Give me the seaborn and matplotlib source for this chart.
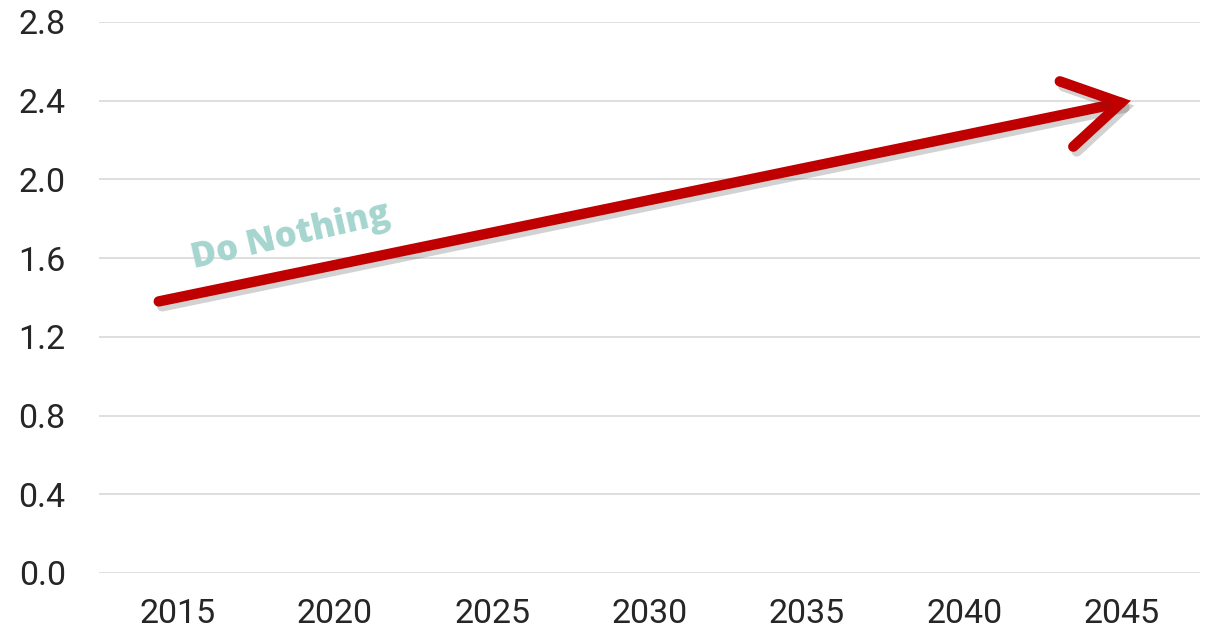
import seaborn as sns
import matplotlib.pyplot as plt
import matplotlib.patheffects as pe
from matplotlib.patches import ArrowStyle

# data
years = [2015, 2020, 2025, 2030, 2035, 2040, 2045]
arrow_x = [2014.4, 2045.3]
arrow_y = [1.38, 2.40]
label = "Do Nothing"
yticks = [0.0, 0.4, 0.8, 1.2, 1.6, 2.0, 2.4, 2.8]

sns.set_style("white")
plt.rcParams['font.family'] = ['Roboto', 'DejaVu Sans']

fig = plt.figure(figsize=(12.1, 6.37), dpi=100)
ax = fig.add_axes([0.0818, 0.1005, 0.91, 0.865])

ax.set_xlim(2012.5, 2047.5)
ax.set_ylim(0, 2.8)
ax.set_xticks(years)
ax.set_yticks(yticks)
ax.set_yticklabels([f"{v:.1f}" for v in yticks])
ax.yaxis.grid(True, color="#d9d9d9", linewidth=1.2)
ax.set_axisbelow(True)
ax.tick_params(axis="both", length=0, labelsize=24.5, colors="#262626")
ax.tick_params(axis="y", pad=24)
ax.tick_params(axis="x", pad=18)
sns.despine(ax=ax, left=True, bottom=True)

style = ArrowStyle("->", head_length=1.0, head_width=0.6)
ax.annotate("", xy=(arrow_x[1], arrow_y[1]), xytext=(arrow_x[0], arrow_y[0]),
            arrowprops=dict(arrowstyle=style, mutation_scale=40, color="#c00000",
                            lw=7.5, shrinkA=0, shrinkB=0,
                            capstyle="round", joinstyle="miter",
                            path_effects=[pe.SimpleLineShadow(offset=(2.5, -3.5), alpha=0.22, shadow_color="#333333"),
                                          pe.Normal()]))

ax.text(2018.6, 1.71, label, rotation=13, ha="center", va="center",
        fontsize=25, fontweight="heavy", color="#a6d5cf", family=["Open Sans", "DejaVu Sans"])

plt.savefig("out.png", dpi=100)
